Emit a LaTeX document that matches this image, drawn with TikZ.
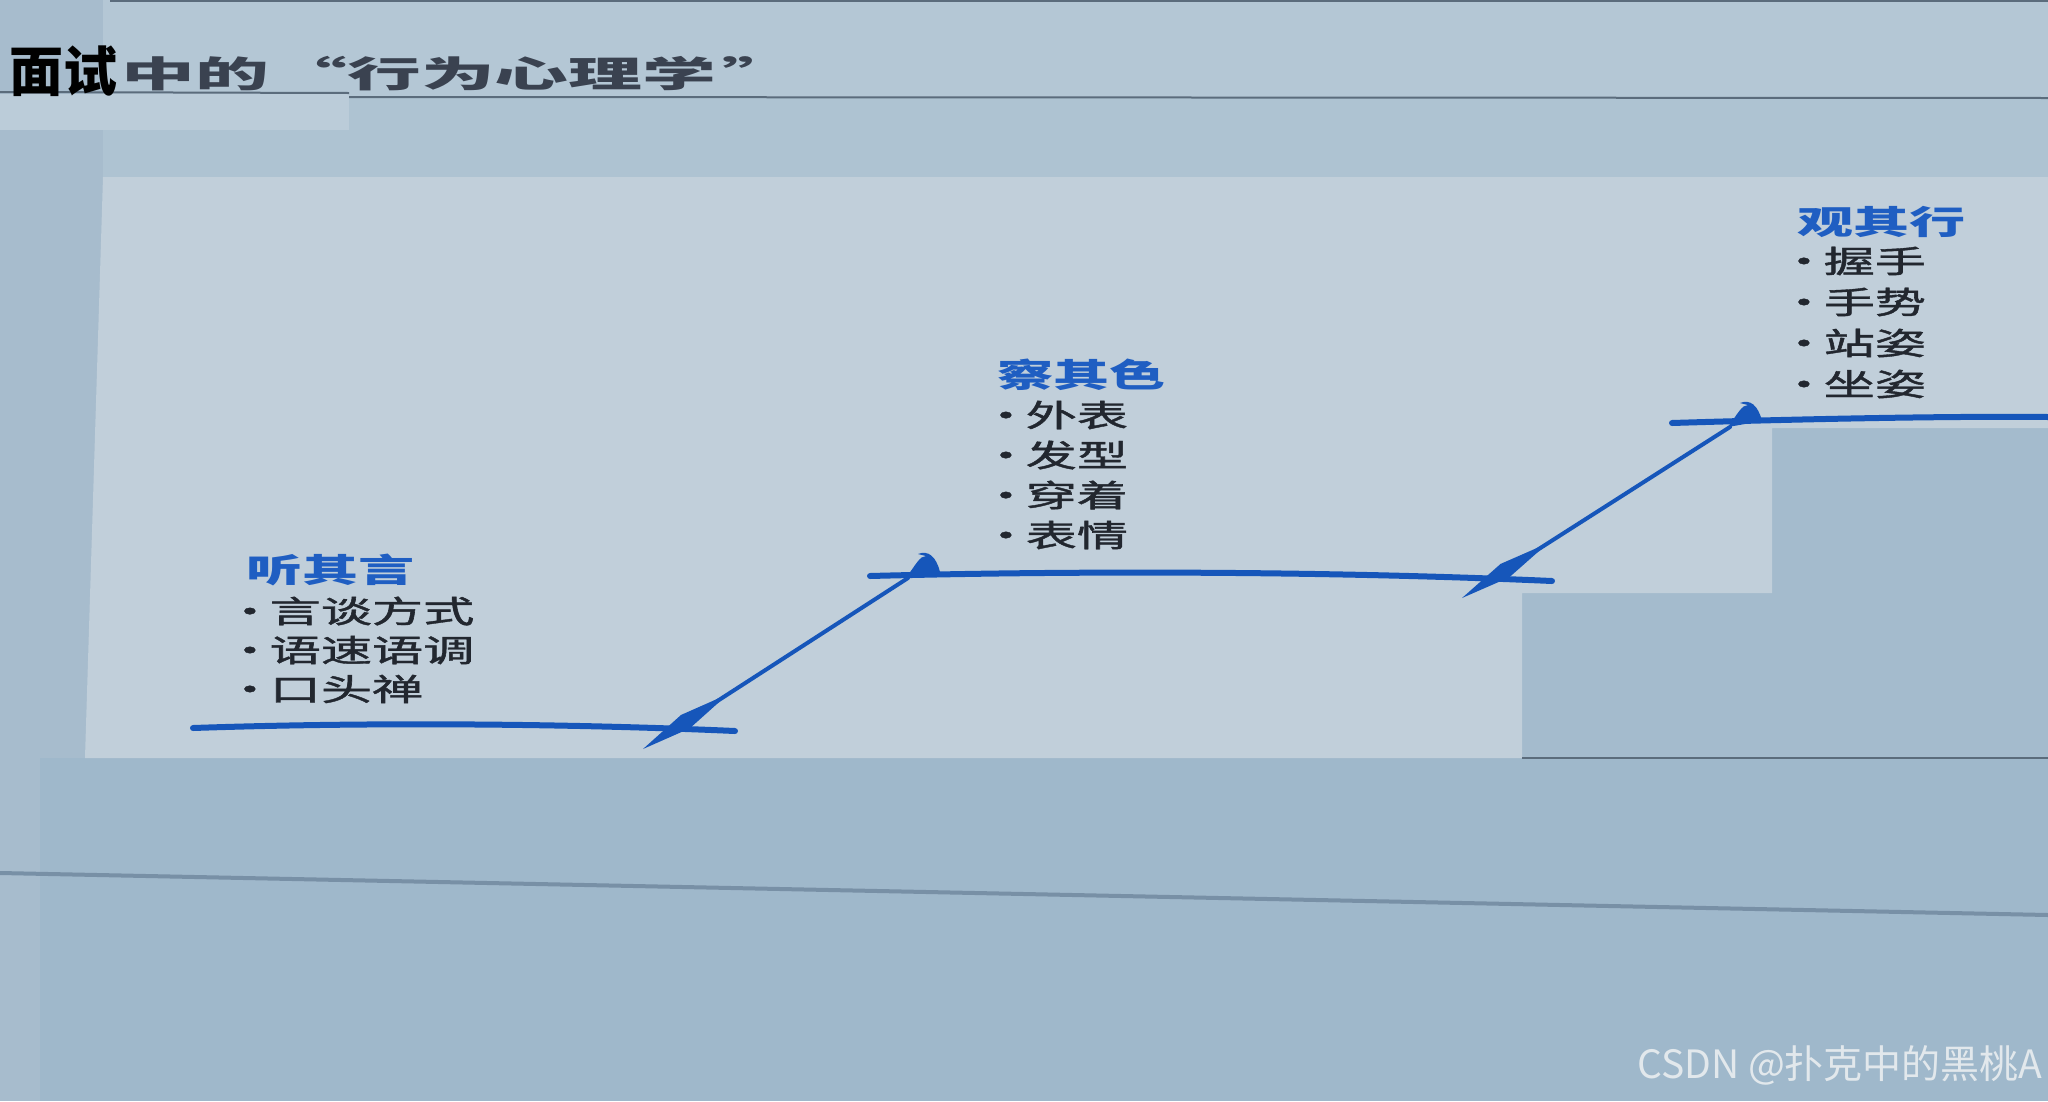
\documentclass[tikz,border=0pt]{standalone}
\usepackage{fontspec}
\newfontfamily\cjk{Noto Sans CJK SC}
\newfontfamily\cjkm{Noto Sans CJK SC}[FakeBold=1.2]
\usetikzlibrary{positioning,calc}
\definecolor{wall}{HTML}{9FB8CB}
\definecolor{side}{HTML}{A4BBCD}
\definecolor{band}{HTML}{AEC3D2}
\definecolor{topband}{HTML}{B4C7D5}
\definecolor{leftcol}{HTML}{A7BCCD}
\definecolor{patch}{HTML}{BBCCD9}
\definecolor{paper}{HTML}{C1CFDA}
\definecolor{rulegray}{HTML}{5B6C7C}
\definecolor{edgegray}{HTML}{7890A6}
\definecolor{penblue}{HTML}{1656BA}
\definecolor{headblue}{HTML}{1F5EC2}
\definecolor{ink}{HTML}{22272F}
\definecolor{titleink}{HTML}{3A4250}
\definecolor{wmark}{HTML}{E2E8EC}

\begin{document}
\begin{tikzpicture}[x=1pt,y=1pt,auto]
    \tikzstyle{every node}=[inner sep=0,anchor=west]
    \tikzstyle{head}=[font=\cjk\bfseries\fontsize{33}{33}\selectfont,text=headblue,xscale=1.7]
    \tikzstyle{item}=[font=\cjkm\fontsize{31}{31}\selectfont,text=ink,xscale=1.65]
    \tikzstyle{hand}=[draw=penblue,line width=6,line cap=round]
    \tikzstyle{slant}=[hand,line width=4]
    {
        \useasboundingbox (0,0) rectangle (2048,-1101);
        \fill[wall] (0,0) rectangle (2048,-1101);
        \fill[side] (1522,-428) rectangle (2048,-758);
        \fill[band] (0,-97) rectangle (2048,-177);
        \fill[leftcol] (0,0) rectangle (103,-758);
        \fill[leftcol] (0,-758) rectangle (40,-1101);
        \fill[topband] (103,0) rectangle (2048,-97);
        \fill[patch] (0,-94) rectangle (349,-130);
        \fill[paper] (103,-177) -- (2048,-177) -- (2048,-428) -- (1772,-428) -- (1772,-593)
            -- (1522,-593) -- (1522,-758) -- (85,-758) -- cycle;

        \draw[rulegray,line width=1.5] (110,-1) -- (2048,-1);
        \draw[rulegray,line width=2] (0,-92) -- (349,-93);
        \draw[rulegray,line width=2] (349,-97) -- (2048,-98);
        \draw[rulegray,line width=2] (1522,-758) -- (2048,-758);
        \draw[edgegray,line width=4] (0,-873) -- (2048,-915);

        \node[font=\cjk\bfseries\fontsize{54}{54}\selectfont] (mian) at (9,-71) {面试};
        \node[font=\cjk\bfseries\fontsize{36}{36}\selectfont,text=titleink,xscale=2.05] (title) at (121,-74)
            {中的 \kern-6pt“行为心理学\kern3pt”};

        \coordinate (h1a) at (193,-728);
        \coordinate (h1b) at (735,-731);
        \coordinate (h2a) at (870,-576);
        \coordinate (h2b) at (1552,-581);
        \coordinate (h3a) at (1672,-423);
        \coordinate (h3b) at (2048,-417);
        \coordinate (d1t) at (908,-578);
        \coordinate (d1b) at (643,-749);
        \coordinate (d2t) at (1730,-427);
        \coordinate (d2b) at (1462,-598);

        \draw[hand] (h1a) .. controls (400,-721) and (600,-725) .. (h1b);
        \draw[hand] (h2a) .. controls (1100,-570) and (1350,-572) .. (h2b);
        \draw[hand] (h3a) .. controls (1800,-419) and (1950,-416) .. (h3b);

        \foreach \t/\b in {d1t/d1b,d2t/d2b} {
            \coordinate (w) at ($(\b)!0.16!(\t)$);
            \draw[slant] (\t) -- ($(\b)!0.25!(\t)$);
            \fill[penblue] ($(\b)!0.32!(\t)$) -- ($(w)!8pt!90:(\t)$) -- (\b) -- ($(w)!8pt!-90:(\t)$) -- cycle;
            \fill[penblue] ($(\t)+(-2,0)$) .. controls ($(\t)+(8,14)$) and ($(\t)+(12,22)$) .. ($(\t)+(18,22)$)
                -- ($(\t)+(10,24)$) .. controls ($(\t)+(20,28)$) and ($(\t)+(28,22)$) .. ($(\t)+(32,6)$) -- cycle;
        }

        \node[head] (ting) at (246,-570) {听其言};
        \foreach \t [count=\i] in {言谈方式,语速语调,口头禅}
            \node[item] (ting\i) at (224,-572-39*\i) {•\kern-3.5pt\t};

        \node[head] (cha) at (997,-375) {察其色};
        \foreach \t [count=\i] in {外表,发型,穿着,表情}
            \node[item] (cha\i) at (980,-375-40*\i) {•\kern-3.5pt\t};

        \node[head] (guan) at (1797,-222) {观其行};
        \foreach \t [count=\i] in {握手,手势,站姿,坐姿}
            \node[item] (guan\i) at (1778,-220-41*\i) {•\kern-3.5pt\t};

        \node[font=\cjk\fontsize{39}{39}\selectfont,text=wmark] (csdn) at (1637,-1065) {CSDN @扑克中的黑桃A};
    }
\end{tikzpicture}
\end{document}
